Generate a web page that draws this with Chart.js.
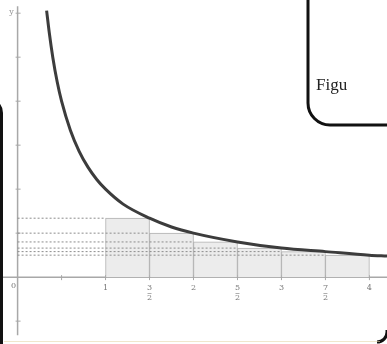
<!DOCTYPE html>
<html>
<head>
<meta charset="utf-8">
<script src="https://cdn.jsdelivr.net/npm/chart.js@4"></script>
<style>
  html, body { margin: 0; padding: 0; background: #fff; }
  #c { display: block; }
</style>
</head>
<body>
<canvas id="c" width="387" height="344"></canvas>
<script>
// curve y = 1/x
const curveX = [0.33, 0.36, 0.4, 0.45, 0.5, 0.6, 0.7, 0.8, 0.9, 1, 1.2, 1.5, 1.75, 2, 2.5, 3, 3.5, 4, 4.2];
const curveY = [3.03, 2.78, 2.5, 2.22, 2.0, 1.67, 1.43, 1.25, 1.11, 1.0, 0.83, 0.67, 0.57, 0.5, 0.4, 0.33, 0.29, 0.25, 0.24];

// lower-sum rectangles
const rectLeft = [1, 1.5, 2, 2.5, 3, 3.5];
const rectHeight = [0.67, 0.5, 0.4, 0.33, 0.29, 0.25];
const rectWidth = 0.5;

// axis ticks and labels
const xTickVals = [0.5, 1, 1.5, 2, 2.5, 3, 3.5, 4];
const yTickVals = [-0.5, 0.5, 1, 1.5, 2, 2.5, 3];
const xLabelVals = [1, 1.5, 2, 2.5, 3, 3.5, 4];
const xLabelNum = ["1", "3", "2", "5", "3", "7", "4"];
const xLabelDen = ["", "2", "", "2", "", "2", ""];

const curveData = curveX.map((x, i) => ({ x: x, y: curveY[i] }));
const barData = rectLeft.map((x, i) => ({ x: x + rectWidth / 2, y: rectHeight[i] }));

const dashSets = rectHeight.map((h, i) => ({
  type: "line",
  data: [{ x: 0, y: h }, { x: rectLeft[i], y: h }],
  borderColor: "#8c8c8c",
  borderWidth: 1,
  borderDash: [2, 2],
  pointRadius: 0,
  order: 1,
}));

const axesPlugin = {
  id: "axes",
  beforeDatasetsDraw(chart) {
    const ctx = chart.ctx;
    const xs = chart.scales.x;
    const ys = chart.scales.y;
    const x0 = xs.getPixelForValue(0);
    const y0 = ys.getPixelForValue(0);
    ctx.save();
    ctx.strokeStyle = "#a8a8a8";
    ctx.lineWidth = 1.5;
    ctx.beginPath();
    ctx.moveTo(xs.left, y0);
    ctx.lineTo(xs.right, y0);
    ctx.moveTo(x0, ys.getPixelForValue(3.08));
    ctx.lineTo(x0, ys.getPixelForValue(-0.66));
    ctx.stroke();
    ctx.lineWidth = 1;
    ctx.beginPath();
    xTickVals.forEach((v) => {
      const px = xs.getPixelForValue(v);
      ctx.moveTo(px, y0 - 2);
      ctx.lineTo(px, y0 + 3);
    });
    yTickVals.forEach((v) => {
      const py = ys.getPixelForValue(v);
      ctx.moveTo(x0 - 2, py);
      ctx.lineTo(x0 + 3, py);
    });
    ctx.stroke();
    ctx.restore();
  },
  afterDatasetsDraw(chart) {
    const ctx = chart.ctx;
    const xs = chart.scales.x;
    const ys = chart.scales.y;
    const y0 = ys.getPixelForValue(0);
    ctx.save();
    ctx.fillStyle = "#777";
    ctx.font = "8px 'DejaVu Serif'";
    ctx.textAlign = "center";
    ctx.textBaseline = "middle";
    xLabelVals.forEach((v, i) => {
      const px = xs.getPixelForValue(v);
      ctx.fillText(xLabelNum[i], px, y0 + 11);
      if (xLabelDen[i]) {
        ctx.fillRect(px - 2, y0 + 16, 4, 0.6);
        ctx.fillText(xLabelDen[i], px, y0 + 21);
      }
    });
    ctx.fillText("0", xs.getPixelForValue(0) - 4, y0 + 9);
    ctx.fillStyle = "#999";
    ctx.fillText("y", xs.getPixelForValue(0) - 6, ys.getPixelForValue(3.02));
    ctx.restore();
  },
  afterDraw(chart) {
    // dark frame edges from the screenshot
    const ctx = chart.ctx;
    ctx.save();
    ctx.strokeStyle = "#111";
    ctx.lineWidth = 3;
    ctx.beginPath();
    ctx.moveTo(-20, 99);
    ctx.arcTo(1.5, 99, 1.5, 125, 14);
    ctx.lineTo(1.5, 344);
    ctx.stroke();
    ctx.beginPath();
    ctx.moveTo(308, -5);
    ctx.lineTo(308, 103);
    ctx.arcTo(308, 125, 330, 125, 22);
    ctx.lineTo(392, 125);
    ctx.stroke();
    ctx.beginPath();
    ctx.moveTo(387, 330);
    ctx.arcTo(387, 342, 375, 342, 10);
    ctx.stroke();
    ctx.fillStyle = "#222";
    ctx.font = "17px 'Liberation Serif'";
    ctx.textAlign = "left";
    ctx.textBaseline = "alphabetic";
    ctx.fillText("Figu", 316, 90);
    ctx.strokeStyle = "rgba(230,215,170,0.6)";
    ctx.lineWidth = 1;
    ctx.beginPath();
    ctx.moveTo(4, 341.5);
    ctx.lineTo(380, 341.5);
    ctx.stroke();
    ctx.restore();
  },
};

new Chart(document.getElementById("c"), {
  data: {
    datasets: [
      {
        type: "line",
        data: curveData,
        borderColor: "#3c3c3c",
        borderWidth: 3,
        pointRadius: 0,
        cubicInterpolationMode: "monotone",
        order: 0,
      },
      ...dashSets,
      {
        type: "bar",
        data: barData,
        backgroundColor: "#ececec",
        borderColor: "#b0b0b0",
        borderWidth: 1,
        barPercentage: 1,
        categoryPercentage: 1,
        order: 2,
      },
    ],
  },
  options: {
    responsive: false,
    animation: false,
    devicePixelRatio: 1,
    layout: { padding: 0 },
    plugins: { legend: { display: false }, tooltip: { enabled: false } },
    scales: {
      x: { type: "linear", min: -0.2, max: 4.2, offset: false, display: false },
      y: { type: "linear", min: -0.76, max: 3.15, display: false },
    },
  },
  plugins: [axesPlugin],
});
</script>
</body>
</html>
